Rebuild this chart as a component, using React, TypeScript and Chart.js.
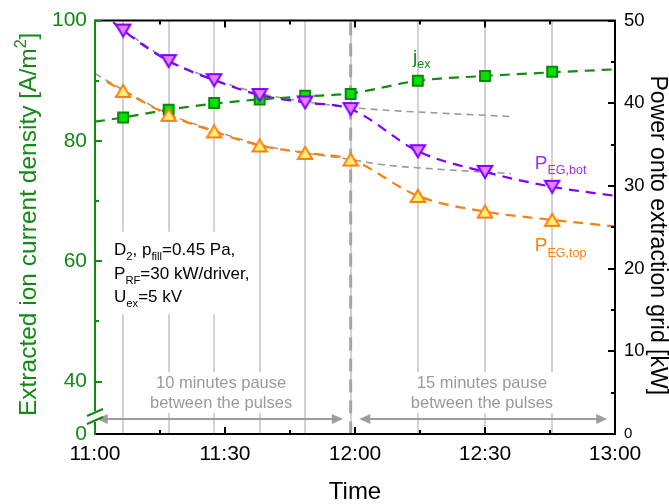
import React, { useEffect, useRef } from 'react';
import { Chart, registerables } from 'chart.js';

Chart.register(...registerables);

const FONT = '"Liberation Sans", Arial, Helvetica, sans-serif';

// time in minutes after 11:00
const sampleTimes = [6.5, 17, 27.5, 38, 48.5, 59, 74.5, 90, 105.5];
const jexValues = [83.9, 85.2, 86.3, 86.9, 87.5, 87.8, 90.0, 90.8, 91.5];
const pEgBotValues = [48.8, 45.1, 42.8, 41.0, 40.1, 39.3, 34.2, 31.7, 29.9];
const pEgTopValues = [41.5, 38.6, 36.6, 34.9, 34.0, 33.2, 28.8, 26.9, 25.9];

// dashed fit curves
const jexFitTimes = [0, 6.5, 17, 27.5, 38, 48.5, 59, 74.5, 90, 105.5, 120];
const jexFitValues = [83.2, 83.9, 85.2, 86.2, 86.9, 87.4, 87.9, 90.0, 90.8, 91.4, 91.9];
const botFitTimes = [4.2, 6.5, 17, 27.5, 38, 48.5, 59, 74.5, 90, 105.5, 120];
const botFitValues = [49.8, 48.8, 45.1, 42.8, 41.0, 40.1, 39.3, 34.2, 31.7, 29.9, 28.8];
const topFitTimes = [2.7, 6.5, 17, 27.5, 38, 48.5, 59, 74.5, 90, 105.5, 120];
const topFitValues = [42.6, 41.5, 38.6, 36.6, 34.9, 34.0, 33.2, 28.8, 26.9, 25.9, 25.1];
// grey extrapolated trends of the 10-minute phase
const botTrendTimes = [6.5, 17, 27.5, 38, 48.5, 59, 66, 80, 96];
const botTrendValues = [48.9, 45.2, 42.9, 41.2, 40.2, 39.5, 39.2, 38.8, 38.4];
const topTrendTimes = [0, 6.5, 17, 27.5, 38, 48.5, 59, 66, 80, 96];
const topTrendValues = [43.6, 41.6, 38.7, 36.7, 35.0, 34.0, 33.2, 32.6, 32.0, 31.5];

const xTickValues = [0, 30, 60, 90, 120];
const leftTickValues = [40, 60, 80, 100];
const leftAxisMin = 31.3; // broken axis, bottom labelled "0"
const rightTickValues = [0, 10, 20, 30, 40, 50];
const pauseChangeTime = 59;

const GREEN = '#138a13';
const PURPLE = '#8000ff';
const ORANGE = '#ff7f0a';
const GREY_TXT = '#9a9a9a';

type Seg = { t: string; s?: 'sub' | 'sup' };

function richWidth(ctx: CanvasRenderingContext2D, segs: Seg[], size: number) {
  let w = 0;
  for (const g of segs) {
    ctx.font = `${g.s ? size * 0.66 : size}px ${FONT}`;
    w += ctx.measureText(g.t).width;
  }
  return w;
}

function drawRich(ctx: CanvasRenderingContext2D, segs: Seg[], x: number, y: number, size: number, align: 'left' | 'center' = 'left') {
  const w = richWidth(ctx, segs, size);
  let cx = align === 'center' ? x - w / 2 : x;
  ctx.textAlign = 'left';
  ctx.textBaseline = 'alphabetic';
  for (const g of segs) {
    const fs = g.s ? size * 0.66 : size;
    ctx.font = `${fs}px ${FONT}`;
    const dy = g.s === 'sub' ? size * 0.3 : g.s === 'sup' ? -size * 0.42 : 0;
    ctx.fillText(g.t, cx, y + dy);
    cx += ctx.measureText(g.t).width;
  }
  return w;
}

function fmtTime(v: number) {
  const m = 660 + v;
  const h = Math.floor(m / 60);
  const mm = Math.round(m % 60);
  return `${h}:${mm < 10 ? '0' + mm : mm}`;
}

function arrow(ctx: CanvasRenderingContext2D, x1: number, x2: number, y: number) {
  const hl = 11, hw = 5;
  ctx.beginPath();
  ctx.moveTo(x1 + hl - 1, y);
  ctx.lineTo(x2 - hl + 1, y);
  ctx.stroke();
  ctx.beginPath();
  ctx.moveTo(x1, y);
  ctx.lineTo(x1 + hl, y - hw);
  ctx.lineTo(x1 + hl, y + hw);
  ctx.closePath();
  ctx.fill();
  ctx.beginPath();
  ctx.moveTo(x2, y);
  ctx.lineTo(x2 - hl, y - hw);
  ctx.lineTo(x2 - hl, y + hw);
  ctx.closePath();
  ctx.fill();
}

const decorPlugin = {
  id: 'decor',
  beforeDatasetsDraw(chart: any) {
    const { ctx, chartArea: ca } = chart;
    const xs = chart.scales.x;
    const yl = chart.scales.y;
    ctx.save();
    // light vertical lines at each pulse
    ctx.strokeStyle = '#d2d2d2';
    ctx.lineWidth = 2;
    for (const t of sampleTimes) {
      const px = Math.round(xs.getPixelForValue(t));
      ctx.beginPath();
      ctx.moveTo(px, ca.top);
      ctx.lineTo(px, ca.bottom);
      ctx.stroke();
    }
    // dashed separator
    const pc = xs.getPixelForValue(pauseChangeTime);
    ctx.strokeStyle = '#a5a5a5';
    ctx.lineWidth = 3;
    ctx.setLineDash([13, 8]);
    ctx.beginPath();
    ctx.moveTo(pc, ca.top + 2);
    ctx.lineTo(pc, ca.bottom);
    ctx.stroke();
    ctx.setLineDash([]);

    // parameter box
    const size = 17;
    const lines: Seg[][] = [
      [{ t: 'D' }, { t: '2', s: 'sub' }, { t: ', p' }, { t: 'fill', s: 'sub' }, { t: '=0.45 Pa,' }],
      [{ t: 'P' }, { t: 'RF', s: 'sub' }, { t: '=30 kW/driver,' }],
      [{ t: 'U' }, { t: 'ex', s: 'sub' }, { t: '=5 kV' }],
    ];
    const bx = xs.getPixelForValue(4.4);
    const baseVals = [61.1, 57.1, 53.2];
    let maxW = 0;
    lines.forEach((l) => (maxW = Math.max(maxW, richWidth(ctx, l, size))));
    const by0 = yl.getPixelForValue(baseVals[0]) - 23;
    const by1 = yl.getPixelForValue(baseVals[2]) + 12;
    ctx.fillStyle = '#fff';
    ctx.fillRect(bx - 5, by0, maxW + 8, by1 - by0);
    ctx.fillStyle = '#000';
    lines.forEach((l, i) => drawRich(ctx, l, bx, yl.getPixelForValue(baseVals[i]), size));

    // pause annotations
    const tsize = 16.5;
    ctx.font = `${tsize}px ${FONT}`;
    const notes = [
      { c: 29.1, rows: ['10 minutes pause', 'between the pulses'] },
      { c: 89.3, rows: ['15 minutes pause', 'between the pulses'] },
    ];
    for (const n of notes) {
      const cx = xs.getPixelForValue(n.c);
      const w = Math.max(...n.rows.map((r) => ctx.measureText(r).width));
      ctx.fillStyle = '#fff';
      ctx.fillRect(cx - w / 2 - 7, ca.bottom - 62, w + 14, 41);
      ctx.fillStyle = GREY_TXT;
      ctx.textAlign = 'center';
      ctx.textBaseline = 'middle';
      ctx.fillText(n.rows[0], cx, ca.bottom - 51);
      ctx.fillText(n.rows[1], cx, ca.bottom - 31);
    }
    // arrows
    ctx.strokeStyle = '#9d9d9d';
    ctx.fillStyle = '#9d9d9d';
    ctx.lineWidth = 2;
    const ay = ca.bottom - 15;
    arrow(ctx, xs.getPixelForValue(0.4), xs.getPixelForValue(57.2), ay);
    arrow(ctx, xs.getPixelForValue(61), xs.getPixelForValue(118.2), ay);
    ctx.restore();
  },
  afterDraw(chart: any) {
    const { ctx, chartArea: ca } = chart;
    const xs = chart.scales.x;
    const yl = chart.scales.y;
    const yr = chart.scales.y1;
    ctx.save();
    ctx.lineWidth = 2;
    ctx.lineCap = 'butt';
    // frame black parts
    ctx.strokeStyle = '#000';
    ctx.beginPath();
    ctx.moveTo(ca.left, ca.top);
    ctx.lineTo(ca.right + 1, ca.top);
    ctx.moveTo(ca.right, ca.top);
    ctx.lineTo(ca.right, ca.bottom + 1);
    ctx.moveTo(ca.left, ca.bottom);
    ctx.lineTo(ca.right + 1, ca.bottom);
    ctx.stroke();
    // x ticks (inside, top & bottom)
    for (let m = 0; m <= 120; m += 15) {
      const px = Math.round(xs.getPixelForValue(m));
      const len = m % 30 === 0 ? 7 : 4;
      ctx.beginPath();
      ctx.moveTo(px, ca.bottom);
      ctx.lineTo(px, ca.bottom - len);
      ctx.moveTo(px, ca.top);
      ctx.lineTo(px, ca.top + len);
      ctx.stroke();
    }
    // right ticks
    for (let v = 0; v <= 50; v += 5) {
      const py = Math.round(yr.getPixelForValue(v));
      const len = v % 10 === 0 ? 7 : 4;
      ctx.beginPath();
      ctx.moveTo(ca.right, py);
      ctx.lineTo(ca.right - len, py);
      ctx.stroke();
    }
    // left axis, green, with break
    ctx.strokeStyle = GREEN;
    const bTop = ca.bottom - 23;
    const bBot = ca.bottom - 12;
    ctx.beginPath();
    ctx.moveTo(ca.left, ca.top - 1);
    ctx.lineTo(ca.left, bTop);
    ctx.moveTo(ca.left, bBot);
    ctx.lineTo(ca.left, ca.bottom + 1);
    ctx.stroke();
    ctx.beginPath();
    ctx.moveTo(ca.left - 8, bTop + 5);
    ctx.lineTo(ca.left + 8, bTop - 2);
    ctx.moveTo(ca.left - 8, bBot + 2);
    ctx.lineTo(ca.left + 8, bBot - 5);
    ctx.stroke();
    for (let v = 40; v <= 100; v += 10) {
      const py = Math.round(yl.getPixelForValue(v));
      const len = v % 20 === 0 ? 7 : 4;
      ctx.beginPath();
      ctx.moveTo(ca.left, py);
      ctx.lineTo(ca.left + len, py);
      ctx.stroke();
    }

    // series labels
    ctx.fillStyle = GREEN;
    drawRich(ctx, [{ t: 'j' }, { t: 'ex', s: 'sub' }], xs.getPixelForValue(73.4), yl.getPixelForValue(93.0), 19);
    ctx.fillStyle = '#9b30ff';
    drawRich(ctx, [{ t: 'P' }, { t: 'EG,bot', s: 'sub' }], xs.getPixelForValue(101.5), yr.getPixelForValue(32.1), 19);
    ctx.fillStyle = ORANGE;
    drawRich(ctx, [{ t: 'P' }, { t: 'EG,top', s: 'sub' }], xs.getPixelForValue(101.5), yr.getPixelForValue(22.1), 19);

    // axis titles
    const midY = (ca.top + ca.bottom) / 2;
    ctx.fillStyle = GREEN;
    ctx.save();
    ctx.translate(36, midY - 3);
    ctx.rotate(-Math.PI / 2);
    drawRich(ctx, [{ t: 'Extracted ion current density [A/m' }, { t: '2', s: 'sup' }, { t: ']' }], 0, 0, 24.5, 'center');
    ctx.restore();
    ctx.fillStyle = '#000';
    ctx.save();
    ctx.translate(651, midY + 8);
    ctx.rotate(Math.PI / 2);
    drawRich(ctx, [{ t: 'Power onto extraction grid [kW]' }], 0, 0, 23, 'center');
    ctx.restore();
    drawRich(ctx, [{ t: 'Time' }], xs.getPixelForValue(60), 499, 24, 'center');
    ctx.restore();
  },
};

function makeTriangle(up: boolean, fill: string, stroke: string) {
  const c = document.createElement('canvas');
  c.width = 18;
  c.height = 16;
  const g = c.getContext('2d')!;
  g.beginPath();
  if (up) {
    g.moveTo(9, 2);
    g.lineTo(16.2, 14);
    g.lineTo(1.8, 14);
  } else {
    g.moveTo(1.8, 2);
    g.lineTo(16.2, 2);
    g.lineTo(9, 14);
  }
  g.closePath();
  g.fillStyle = fill;
  g.fill();
  g.lineWidth = 2;
  g.lineJoin = 'miter';
  g.strokeStyle = stroke;
  g.stroke();
  return c;
}

const pts = (xs: number[], ys: number[]) => xs.map((x, i) => ({ x, y: ys[i] }));

export default function App() {
  const ref = useRef<HTMLCanvasElement | null>(null);
  useEffect(() => {
    if (!ref.current) return;
    const triDown = makeTriangle(false, '#e57dff', PURPLE);
    const triUp = makeTriangle(true, '#ffef7a', ORANGE);
    const fitLine = (data: any, color: string, axis: string, width: number, dash: number[], order: number) => ({
      data,
      yAxisID: axis,
      borderColor: color,
      borderWidth: width,
      borderDash: dash,
      pointRadius: 0,
      pointHoverRadius: 0,
      cubicInterpolationMode: 'monotone',
      fill: false,
      order,
    });
    const chart = new Chart(ref.current, {
      type: 'line',
      data: {
        datasets: [
          {
            label: 'P_EG,bot',
            data: pts(sampleTimes, pEgBotValues),
            yAxisID: 'y1',
            showLine: false,
            pointStyle: triDown as any,
            pointRadius: 8,
            order: 0,
          },
          {
            label: 'P_EG,top',
            data: pts(sampleTimes, pEgTopValues),
            yAxisID: 'y1',
            showLine: false,
            pointStyle: triUp as any,
            pointRadius: 8,
            order: 0,
          },
          {
            label: 'j_ex',
            data: pts(sampleTimes, jexValues),
            yAxisID: 'y',
            showLine: false,
            pointStyle: 'rect',
            pointRadius: 7,
            pointBackgroundColor: '#00e400',
            pointBorderColor: '#0b880b',
            pointBorderWidth: 2,
            order: 1,
          },
          fitLine(pts(jexFitTimes, jexFitValues), GREEN, 'y', 2.2, [10, 7], 2),
          fitLine(pts(botFitTimes, botFitValues), PURPLE, 'y1', 2.2, [10, 7], 2),
          fitLine(pts(topFitTimes, topFitValues), ORANGE, 'y1', 2.2, [10, 7], 2),
          fitLine(pts(botTrendTimes, botTrendValues), '#9a9a9a', 'y1', 1.6, [7, 5], 3),
          fitLine(pts(topTrendTimes, topTrendValues), '#9a9a9a', 'y1', 1.6, [7, 5], 3),
        ] as any,
      },
      options: {
        responsive: false,
        animation: false,
        devicePixelRatio: 1,
        events: [],
        layout: { padding: { top: 17, left: 0, right: 0, bottom: 0 } },
        plugins: { legend: { display: false }, tooltip: { enabled: false } },
        scales: {
          x: {
            type: 'linear',
            position: 'bottom',
            min: 0,
            max: 120,
            afterFit: (s: any) => {
              s.height = 70;
            },
            afterBuildTicks: (s: any) => {
              s.ticks = xTickValues.map((v) => ({ value: v }));
            },
            ticks: {
              callback: (v: any) => fmtTime(Number(v)),
              color: '#000',
              font: { family: FONT, size: 21 },
              padding: 8,
              maxRotation: 0,
              autoSkip: false,
            },
            grid: { display: false, drawTicks: false },
            border: { display: false },
          },
          y: {
            type: 'linear',
            position: 'left',
            min: leftAxisMin,
            max: 100,
            afterFit: (s: any) => {
              s.width = 95;
            },
            afterBuildTicks: (s: any) => {
              s.ticks = [leftAxisMin, ...leftTickValues].map((v) => ({ value: v }));
            },
            ticks: {
              callback: (v: any) => (Number(v) === leftAxisMin ? '0' : String(v)),
              color: GREEN,
              font: { family: FONT, size: 21 },
              padding: 8,
              autoSkip: false,
            },
            grid: { display: false, drawTicks: false },
            border: { display: false },
          },
          y1: {
            type: 'linear',
            position: 'right',
            min: 0,
            max: 50,
            afterFit: (s: any) => {
              s.width = 54;
            },
            afterBuildTicks: (s: any) => {
              s.ticks = rightTickValues.map((v) => ({ value: v }));
            },
            ticks: {
              color: '#000',
              font: (c: any) => ({ family: FONT, size: c.tick && c.tick.value === 0 ? 15 : 18.5 }),
              padding: 9,
              autoSkip: false,
            },
            grid: { display: false, drawTicks: false },
            border: { display: false },
          },
        },
      } as any,
      plugins: [decorPlugin],
    });
    return () => chart.destroy();
  }, []);
  return (
    <div style={{ position: 'fixed', left: 0, top: 0, width: 669, height: 504, background: '#fff' }}>
      <canvas ref={ref} width={669} height={504} style={{ width: 669, height: 504, display: 'block' }} />
    </div>
  );
}
